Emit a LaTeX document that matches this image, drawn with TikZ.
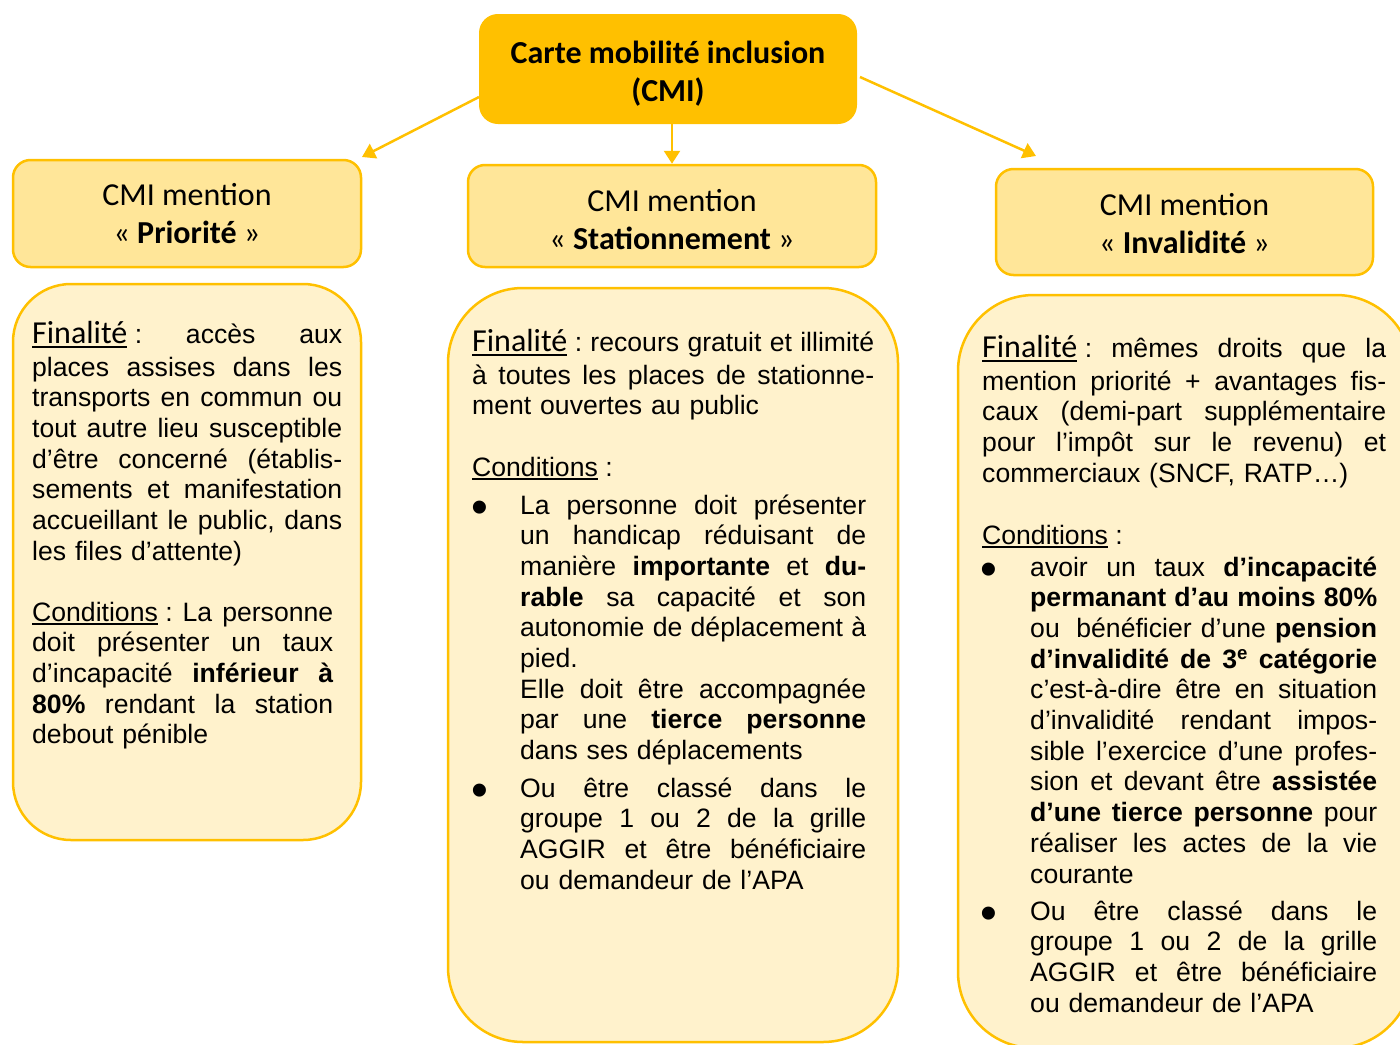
\documentclass[tikz,border=0pt]{standalone}
\usepackage{fontspec}
\setmainfont{Liberation Sans}
\newfontfamily\calfont{Carlito}
\usetikzlibrary{arrows.meta,calc}
\definecolor{cmiorange}{HTML}{FFC000}
\definecolor{headfill}{HTML}{FFE699}
\definecolor{bodyfill}{HTML}{FFF2CC}
\newsavebox\ulsave
\newdimen\jw
\newcommand\ulx[3]{\sbox\ulsave{#3}\leavevmode\rlap{\rule[#1]{\wd\ulsave}{#2}}\usebox\ulsave}
\newcommand\Fin{\ulx{-4.7pt}{2.1pt}{\calfont\fontsize{32}{30.7}\selectfont Finalité}\hspace{7.4pt}:}
\newcommand\Cond{\ulx{-3.8pt}{2pt}{Conditions}\hspace{7.4pt}:}
\newcommand\J[1]{\leavevmode\hbox to\jw{\frenchspacing\spaceskip=.278em plus 1fil minus 1.5pt\relax\xspaceskip=\spaceskip #1}}
\hbadness=10000
\hfuzz=20pt
\tikzset{
  topbox/.style={draw=cmiorange, fill=cmiorange, line width=2pt, rounded corners=18pt, inner sep=0pt, align=center, font=\calfont\bfseries\fontsize{32}{38.5}\selectfont},
  headbox/.style={draw=cmiorange, fill=headfill, line width=2.5pt, rounded corners=17.5pt, inner sep=0pt, align=center, font=\calfont\fontsize{32}{38.5}\selectfont},
  bodybox/.style={draw=cmiorange, fill=bodyfill, line width=2.5pt, inner sep=0pt},
  txt/.style={anchor=base west, inner sep=0pt, align=left, font=\fontsize{26.6}{30.7}\selectfont},
  par/.style={txt, text width=#1, execute at begin node={\global\jw=#1\relax}},
  dot/.style={anchor=base, inner sep=0pt, font=\fontsize{48}{48}\selectfont},
  conn/.style={draw=cmiorange, line width=2.5pt, -{Triangle[length=13pt,width=16pt]}},
}
\begin{document}
\begin{tikzpicture}[x=1pt,y=-1pt]
\useasboundingbox (0,0) rectangle (1400,1044);
\clip (0,0) rectangle (1400,1044);
% top node
\node[topbox, minimum width=376pt, minimum height=108pt] (top) at (668,69) {\rule{0pt}{32pt}Carte mobilité inclusion\\(CMI)};
% header nodes
\node[headbox, minimum width=348pt, minimum height=107pt] (hP) at (187,213.5) {CMI mention\\« \textbf{Priorité} »};
\node[headbox, minimum width=408pt, minimum height=102pt, rounded corners=17pt] (hS) at (672,216) {\rule{0pt}{29pt}CMI mention\\« \textbf{Stationnement} »};
\node[headbox, minimum width=377pt, minimum height=106pt] (hI) at (1184.5,222) {\rule{0pt}{25pt}CMI mention\\« \textbf{Invalidité} »};
% body boxes
\node[bodybox, minimum width=348pt, minimum height=556pt, rounded corners=58pt] (bP) at (187,562) {};
\node[bodybox, minimum width=450pt, minimum height=754pt, rounded corners=75pt] (bS) at (673,665) {};
\node[bodybox, minimum width=454pt, minimum height=753pt, rounded corners=76pt] (bI) at (1185,671.5) {};
% connectors
\coordinate (tipL) at (362,157);
\coordinate (tipR) at (1036,156);
\draw[conn] ($(top.west)+(0,28)$) -- (tipL);
\draw[conn] (top.south -| hS.north) -- (hS.north);
\draw[conn] ($(top.east)+(3,8)$) -- (tipR);
% left texts
\node[par=310pt] (pFin) at (32,343) {%
\J{\Fin{} accès aux}\\[2.3pt]
\J{places assises dans les}\\
\J{transports en commun ou}\\
\J{tout autre lieu susceptible}\\
\J{d’être concerné (établis-}\\
\J{sements et manifestation}\\
\J{accueillant le public, dans}\\
les files d’attente)};
\node[par=301pt] (pCond) at (32,621) {%
\J{\Cond{} La personne}\\
\J{doit présenter un taux}\\
\J{d’incapacité \textbf{inférieur à}}\\
\J{\textbf{80\%} rendant la station}\\
debout pénible};
% middle texts
\node[par=402pt] (sFin) at (472,351) {%
\J{\Fin{} recours gratuit et illimité}\\[2.3pt]
\J{à toutes les places de stationne-}\\
ment ouvertes au public};
\node[txt] (sCond) at (472,476) {\Cond};
\node[dot] (sb1) at (480,523) {•};
\node[par=346pt] (sItem1) at (520,514) {%
\J{La personne doit présenter}\\
\J{un handicap réduisant de}\\
\J{manière \textbf{importante} et \textbf{du-}}\\
\J{\textbf{rable} sa capacité et son}\\
\J{autonomie de déplacement à}\\
pied.\\
\J{Elle doit être accompagnée}\\
\J{par une \textbf{tierce personne}}\\
dans ses déplacements};
\node[dot] (sb2) at (480,806) {•};
\node[par=346pt] (sItem2) at (520,797) {%
\J{Ou être classé dans le}\\
\J{groupe 1 ou 2 de la grille}\\
\J{AGGIR et être bénéficiaire}\\
ou demandeur de l’APA};
% right texts
\node[par=404pt] (iFin) at (982,357) {%
\J{\Fin{} mêmes droits que la}\\[2.3pt]
\J{mention priorité + avantages fis-}\\
\J{caux (demi-part supplémentaire}\\
\J{pour l’impôt sur le revenu) et}\\
commerciaux (SNCF, RATP…)};
\node[txt] (iCond) at (982,544) {\Cond};
\node[dot] (ib1) at (989,585) {•};
\node[par=347pt] (iItem1) at (1030,576) {%
\J{avoir un taux \textbf{d’incapacité}}\\
\J{\textbf{permanant d’au moins 80\%}}\\
\J{ou\hspace{7.4pt} bénéficier d’une \textbf{pension}}\\
\J{\textbf{d’invalidité de 3\textsuperscript{e} catégorie}}\\
\J{c’est-à-dire être en situation}\\
\J{d’invalidité rendant impos-}\\
\J{sible l’exercice d’une profes-}\\
\J{sion et devant être \textbf{assistée}}\\
\J{\textbf{d’une tierce personne} pour}\\
\J{réaliser les actes de la vie}\\
courante};
\node[dot] (ib2) at (989,929) {•};
\node[par=347pt] (iItem2) at (1030,920) {%
\J{Ou être classé dans le}\\
\J{groupe 1 ou 2 de la grille}\\
\J{AGGIR et être bénéficiaire}\\
ou demandeur de l’APA};
\end{tikzpicture}
\end{document}
